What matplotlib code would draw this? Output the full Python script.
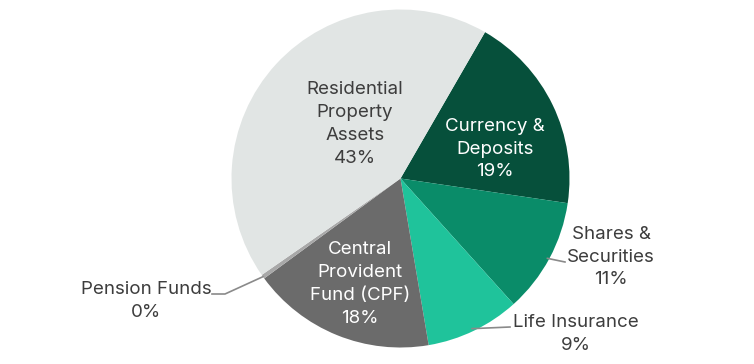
import numpy as np
from matplotlib import pyplot as plt

# household asset mix, clockwise from the top right
names = ["Currency &\nDeposits", "Shares &\nSecurities", "Life Insurance",
         "Central\nProvident\nFund (CPF)", "Pension Funds", "Residential\nProperty\nAssets"]
shares = [19.0, 11.0, 9.0, 17.6, 0.4, 43.0]
pct_labels = ["19%", "11%", "9%", "18%", "0%", "43%"]
colors = ["#06503b", "#0a8c69", "#1fc39b", "#6b6b6b", "#a8a8a8", "#e1e5e4"]

plt.rcParams['font.family'] = ['Inter', 'DejaVu Sans']

fig = plt.figure(figsize=(7.54, 3.64), dpi=100)
ax = fig.add_axes([0, 0, 1, 1])

cx, cy, r = 400.5, 185.5, 169
wedges, _ = ax.pie(shares, colors=colors, startangle=60, counterclock=False,
                   center=(cx, cy), radius=r, frame=True,
                   wedgeprops=dict(linewidth=0))
ax.set_xlim(0, 754)
ax.set_ylim(0, 364)
ax.set_aspect('equal')
ax.axis('off')

dark = "#3d3d3d"
fs = 13.5
ls = 1.45

def edge(i, rr=1.0):
    w = wedges[i]
    a = np.deg2rad((w.theta1 + w.theta2) / 2)
    return cx + r * rr * np.cos(a), cy + r * rr * np.sin(a)

# labels inside the pie
inside = {0: (495, 215, "white"), 3: (360, 80, "white"), 5: (355, 240, dark)}
for i, (x, y, c) in inside.items():
    ax.text(x, y, names[i] + "\n" + pct_labels[i], ha='center', va='center',
            color=c, fontsize=fs, linespacing=ls)

# labels outside with leader lines
lc = "#8a8a8a"
# Shares
ex, ey = edge(1)
ax.plot([ex - 2, 565], [ey, 102], color=lc, lw=1.2)
ax.text(611, 107, names[1] + "\n" + pct_labels[1], ha='center', va='center',
        color=dark, fontsize=fs, linespacing=ls)
# Life insurance
ex, ey = edge(2)
ax.plot([ex - 2, 510], [ey + 2, 37], color=lc, lw=1.2)
ax.text(576, 30, names[2] + "\n" + pct_labels[2], ha='center', va='center',
        color=dark, fontsize=fs, linespacing=ls)
# Pension funds
ex, ey = edge(4)
ax.plot([212, 225, ex], [70, 70, ey], color=lc, lw=1.2)
ax.text(146, 63, names[4] + "\n" + pct_labels[4], ha='center', va='center',
        color=dark, fontsize=fs, linespacing=ls)

fig.savefig("out.png", dpi=100, facecolor="white")
